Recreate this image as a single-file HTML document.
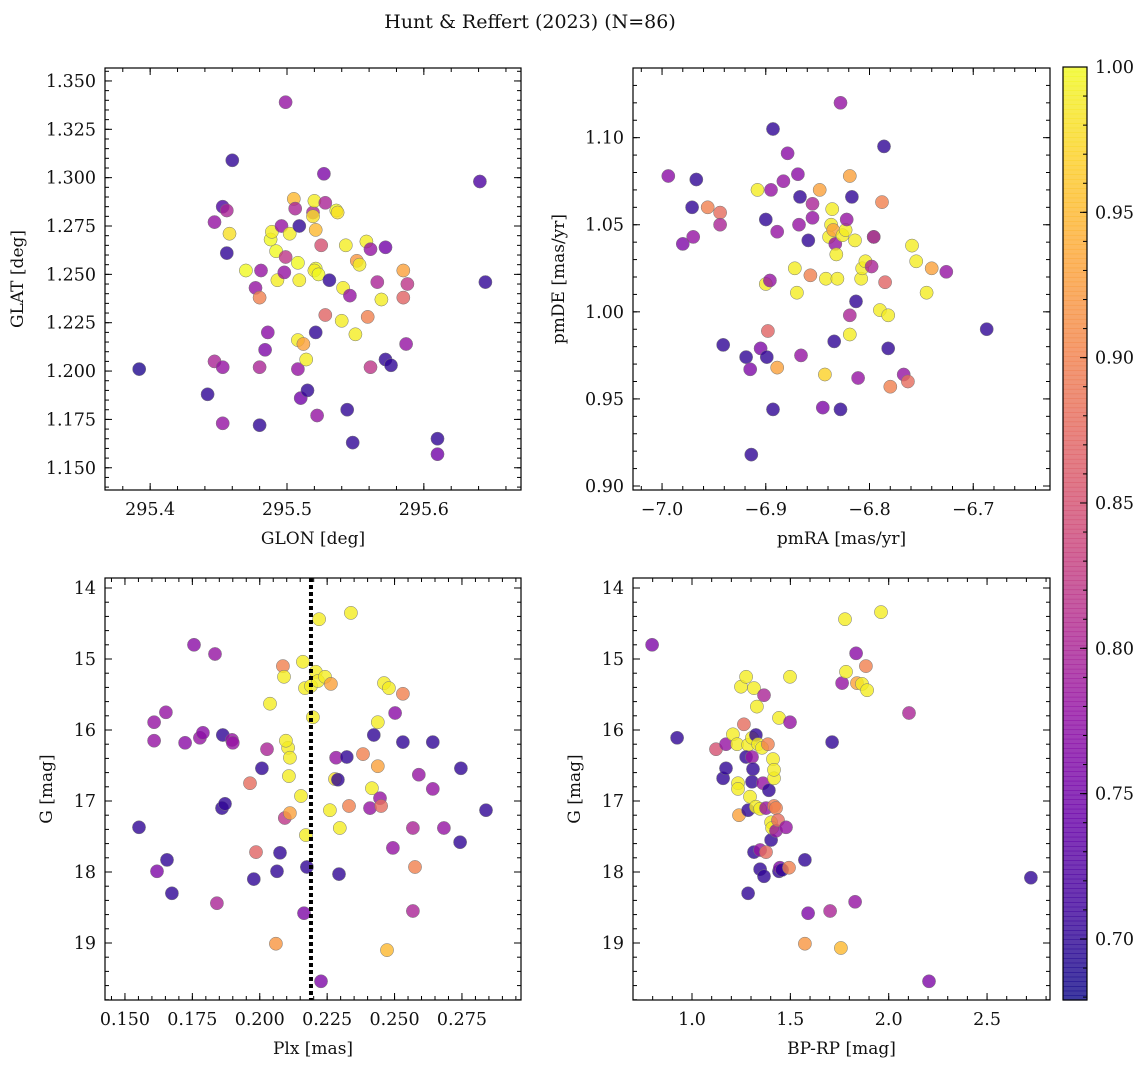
<!DOCTYPE html>
<html><head><meta charset="utf-8">
<style>
body{margin:0;background:#fff;}
svg text{font-family:"DejaVu Serif","Liberation Serif",serif;fill:#111;}
</style></head>
<body>
<svg id="fig" width="1148" height="1067" xmlns="http://www.w3.org/2000/svg">
<text x="530" y="28" font-size="19" text-anchor="middle">Hunt &amp; Reffert (2023) (N=86)</text>
</svg>
<script>
// Panel 1: GLON / GLAT
const glon=[295.392,295.442,295.460,295.447,295.453,295.456,295.456,295.458,295.470,295.447,295.453,295.453,295.477,295.480,295.480,295.481,295.484,295.486,295.480,295.488,295.489,295.492,295.493,295.496,295.498,295.499,295.499,295.502,295.505,295.506,295.509,295.508,295.509,295.508,295.510,295.508,295.512,295.514,295.515,295.519,295.519,295.520,295.521,295.521,295.520,295.523,295.521,295.522,295.525,295.527,295.528,295.531,295.528,295.536,295.537,295.540,295.543,295.541,295.544,295.546,295.550,295.548,295.551,295.553,295.558,295.559,295.561,295.561,295.566,295.569,295.572,295.572,295.576,295.585,295.585,295.587,295.588,295.610,295.610,295.641,295.645];
const glat=[1.201,1.188,1.309,1.277,1.285,1.283,1.261,1.271,1.252,1.205,1.202,1.173,1.243,1.172,1.202,1.252,1.211,1.220,1.238,1.268,1.272,1.262,1.247,1.275,1.251,1.259,1.339,1.271,1.289,1.284,1.275,1.256,1.247,1.201,1.186,1.216,1.214,1.206,1.190,1.282,1.280,1.288,1.273,1.253,1.252,1.250,1.220,1.177,1.265,1.302,1.287,1.247,1.229,1.283,1.282,1.226,1.265,1.243,1.180,1.239,1.219,1.163,1.257,1.255,1.267,1.228,1.202,1.263,1.246,1.237,1.264,1.206,1.203,1.252,1.238,1.214,1.245,1.165,1.157,1.298,1.246];
const prob1=[0.69,0.70,0.70,0.78,0.72,0.80,0.70,0.98,1.0,0.80,0.78,0.78,0.78,0.70,0.80,0.78,0.76,0.77,0.90,1.0,0.99,1.0,0.99,0.78,0.78,0.82,0.78,0.99,0.95,0.80,0.70,1.0,0.99,0.78,0.75,0.99,0.93,0.99,0.70,0.80,0.98,0.99,0.95,1.0,0.99,1.0,0.70,0.78,0.85,0.76,0.80,0.70,0.87,1.0,0.98,0.99,0.99,0.99,0.70,0.78,0.99,0.70,0.92,0.99,0.99,0.90,0.82,0.78,0.80,0.99,0.75,0.70,0.70,0.93,0.87,0.78,0.82,0.70,0.75,0.72,0.70];
// Panel 2: pmRA / pmDE
const pmra=[-6.994,-6.967,-6.971,-6.980,-6.970,-6.956,-6.944,-6.944,-6.941,-6.919,-6.915,-6.914,-6.908,-6.900,-6.905,-6.899,-6.898,-6.900,-6.896,-6.893,-6.895,-6.893,-6.889,-6.889,-6.883,-6.879,-6.872,-6.870,-6.869,-6.866,-6.867,-6.868,-6.859,-6.857,-6.855,-6.855,-6.848,-6.845,-6.843,-6.842,-6.839,-6.837,-6.836,-6.835,-6.833,-6.832,-6.834,-6.831,-6.828,-6.828,-6.826,-6.823,-6.822,-6.819,-6.819,-6.819,-6.817,-6.814,-6.813,-6.811,-6.808,-6.807,-6.804,-6.796,-6.796,-6.798,-6.790,-6.788,-6.786,-6.785,-6.782,-6.782,-6.780,-6.767,-6.763,-6.759,-6.755,-6.745,-6.740,-6.726,-6.687];
const pmde=[1.078,1.076,1.060,1.039,1.043,1.060,1.057,1.050,0.981,0.974,0.967,0.918,1.070,1.053,0.979,0.974,0.989,1.016,1.018,1.105,1.070,0.944,0.968,1.046,1.075,1.091,1.025,1.011,1.079,0.975,1.066,1.050,1.041,1.021,1.054,1.062,1.070,0.945,0.964,1.019,1.043,1.050,1.059,1.047,1.039,1.033,0.983,1.019,1.120,0.944,1.044,1.047,1.053,1.078,0.998,0.987,1.066,1.041,1.006,0.962,1.019,1.025,1.029,1.043,1.043,1.026,1.001,1.063,1.095,1.017,0.998,0.979,0.957,0.964,0.960,1.038,1.029,1.011,1.025,1.023,0.990];
const prob2=[0.77,0.70,0.70,0.76,0.78,0.90,0.88,0.80,0.70,0.70,0.76,0.70,0.99,0.70,0.76,0.70,0.87,0.99,0.78,0.70,0.78,0.70,0.93,0.78,0.78,0.77,0.99,0.99,0.77,0.78,0.70,0.78,0.70,0.90,0.78,0.80,0.93,0.76,0.97,0.99,0.99,0.99,0.99,0.93,0.78,0.99,0.70,0.99,0.78,0.70,0.99,0.99,0.78,0.93,0.80,0.99,0.70,0.99,0.70,0.78,0.99,0.99,0.99,0.99,0.78,0.80,0.99,0.90,0.70,0.87,0.99,0.70,0.90,0.78,0.88,0.99,0.99,0.99,0.93,0.78,0.70];
// Panel 3: Plx / G
const plx=[0.1552,0.1608,0.1608,0.1619,0.1652,0.1656,0.1674,0.1723,0.1756,0.1778,0.1789,0.1834,0.1841,0.1860,0.1871,0.1863,0.1897,0.1900,0.1964,0.1978,0.1986,0.2008,0.2027,0.2038,0.2060,0.2064,0.2075,0.2086,0.2090,0.2093,0.2105,0.2097,0.2112,0.2108,0.2112,0.2153,0.2160,0.2168,0.2164,0.2171,0.2175,0.2190,0.2197,0.2208,0.2216,0.2220,0.2227,0.2242,0.2264,0.2260,0.2279,0.2290,0.2283,0.2294,0.2297,0.2323,0.2331,0.2338,0.2383,0.2409,0.2416,0.2423,0.2438,0.2438,0.2446,0.2450,0.2461,0.2472,0.2479,0.2494,0.2502,0.2531,0.2531,0.2568,0.2568,0.2576,0.2590,0.2642,0.2642,0.2683,0.2743,0.2746,0.2839];
const gmag3=[17.37,15.89,16.15,17.99,15.75,17.83,18.30,16.18,14.80,16.11,16.04,14.93,18.44,17.10,17.04,16.07,16.14,16.18,16.75,18.10,17.72,16.54,16.27,15.63,19.01,17.99,17.73,15.10,15.25,17.24,16.25,16.15,16.39,16.65,17.17,16.93,15.04,15.41,18.58,17.48,17.93,15.38,15.82,15.18,15.31,14.44,19.54,15.25,15.35,17.13,16.69,16.70,16.39,18.03,17.38,16.38,17.07,14.35,16.34,17.10,16.82,16.07,15.89,16.51,16.96,17.07,15.34,19.10,15.41,17.66,15.76,15.49,16.17,17.38,18.55,17.93,16.63,16.83,16.17,17.38,17.58,16.54,17.13];
const prob3=[0.70,0.78,0.78,0.76,0.78,0.70,0.70,0.77,0.77,0.78,0.77,0.78,0.80,0.70,0.70,0.70,0.78,0.78,0.88,0.70,0.87,0.70,0.80,0.99,0.92,0.70,0.70,0.90,0.99,0.82,0.99,0.99,0.99,0.99,0.93,0.99,0.99,0.99,0.76,0.99,0.70,0.99,0.99,0.99,0.99,0.99,0.76,0.99,0.93,0.99,0.98,0.70,0.78,0.70,0.99,0.70,0.90,0.99,0.90,0.78,0.99,0.70,0.99,0.93,0.78,0.88,0.99,0.95,0.99,0.78,0.77,0.90,0.70,0.80,0.80,0.90,0.78,0.78,0.70,0.78,0.70,0.70,0.70];
// Panel 4: BP-RP / G
const bprp=[0.797,0.924,1.122,1.173,1.158,1.173,1.208,1.229,1.234,1.234,1.239,1.249,1.264,1.275,1.285,1.275,1.285,1.285,1.295,1.305,1.305,1.305,1.310,1.315,1.315,1.325,1.325,1.330,1.336,1.346,1.346,1.346,1.356,1.366,1.361,1.366,1.376,1.376,1.386,1.391,1.402,1.402,1.407,1.412,1.417,1.417,1.417,1.427,1.427,1.437,1.442,1.442,1.447,1.458,1.478,1.498,1.498,1.493,1.574,1.574,1.590,1.712,1.702,1.763,1.757,1.778,1.783,1.829,1.834,1.839,1.864,1.884,1.890,1.961,2.103,2.205,2.723];
const gmag4=[14.80,16.11,16.27,16.20,16.68,16.54,16.06,16.20,16.75,16.83,17.20,15.39,15.92,15.25,16.21,16.38,17.13,18.30,16.94,16.11,16.38,16.73,16.55,17.72,15.41,16.07,17.08,15.67,16.20,17.69,17.96,17.11,16.25,15.51,16.75,18.06,17.72,17.10,16.20,16.85,17.55,17.30,17.38,16.41,16.68,16.56,17.07,17.42,17.10,17.27,15.83,17.99,17.94,17.97,17.37,15.25,15.89,17.94,17.83,19.01,18.58,16.17,18.55,15.34,19.07,14.44,15.18,18.42,14.92,15.34,15.35,15.10,15.44,14.34,15.76,19.54,18.08];
const prob4=[0.76,0.70,0.85,0.78,0.70,0.70,0.99,0.99,0.99,0.99,0.93,0.99,0.88,0.99,0.99,0.70,0.70,0.70,0.99,0.99,0.78,0.70,0.70,0.70,0.99,0.70,0.99,0.99,0.99,0.78,0.70,0.99,0.99,0.80,0.78,0.70,0.88,0.78,0.90,0.70,0.70,0.99,0.99,0.99,0.99,0.99,0.90,0.78,0.90,0.88,0.99,0.70,0.76,0.70,0.78,0.99,0.78,0.90,0.70,0.92,0.76,0.70,0.80,0.78,0.95,0.99,0.99,0.78,0.77,0.93,0.99,0.90,0.99,0.99,0.80,0.76,0.70];
const plxRef=[0.219];
const cbTicks=[0.70,0.75,0.80,0.85,0.90,0.95,1.00];
const VMIN=0.679, VMAX=1.0;

const NS="http://www.w3.org/2000/svg";
const svg=document.getElementById('fig');
function mk(tag,attrs,parent){const e=document.createElementNS(NS,tag);for(const k in attrs)e.setAttribute(k,attrs[k]);(parent||svg).appendChild(e);return e;}
const stops=[[13,8,135],[65,4,157],[106,0,168],[143,13,164],[177,42,144],[204,71,120],[225,100,98],[242,132,75],[252,166,54],[252,206,37],[240,249,33]];
function plasma(t){t=Math.max(0,Math.min(1,t));const f=t*10,i=Math.min(9,Math.floor(f)),r=f-i;const a=stops[i],b=stops[i+1];return 'rgb('+a.map((v,k)=>Math.round(v+(b[k]-v)*r)).join(',')+')';}
function fmt(v,d){let s=v.toFixed(d);return s.replace('-','\u2212');}
const TFS=17.5, LFS=17;

function panel(cfg){
  const {L,T,R,B,x0,x1,y0,y1,inv,xs,ys,cs,xMaj,xMin,yMaj,yMin,xd,yd,xlab,ylab,name}=cfg;
  const sx=v=>L+(v-x0)/(x1-x0)*(R-L);
  const sy=inv?(v=>T+(v-y0)/(y1-y0)*(B-T)):(v=>B-(v-y0)/(y1-y0)*(B-T));
  const g=mk('g',{});
  
  
  const pts=mk('g',{},g);
  
  
  for(let i=0;i<xs.length;i++){
    const c=mk('circle',{cx:sx(xs[i]).toFixed(1),cy:sy(ys[i]).toFixed(1),r:6.6,fill:plasma((cs[i]-VMIN)/(VMAX-VMIN)),'fill-opacity':0.8,stroke:'#777','stroke-width':0.5},pts);
    
    
  }
  if(cfg.extra)cfg.extra(g,sx,sy);
  const fr=mk('rect',{x:L,y:T,width:R-L,height:B-T,fill:'none',stroke:'#000','stroke-width':1.2},g);
  
  
  function ticks(lo,hi,step,len,isX,label,dec){
    const n0=Math.ceil(lo/step-1e-6),n1=Math.floor(hi/step+1e-6);
    for(let n=n0;n<=n1;n++){const v=n*step;
      if(isX){const x=sx(v);mk('line',{x1:x,x2:x,y1:B,y2:B-len,stroke:'#000','stroke-width':1},g);mk('line',{x1:x,x2:x,y1:T,y2:T+len,stroke:'#000','stroke-width':1},g);
        if(label){const t=mk('text',{x:x,y:B+25,'font-size':TFS,'text-anchor':'middle'},g);t.textContent=fmt(v,dec);}}
      else{const y=sy(v);mk('line',{x1:L,x2:L+len,y1:y,y2:y,stroke:'#000','stroke-width':1},g);mk('line',{x1:R,x2:R-len,y1:y,y2:y,stroke:'#000','stroke-width':1},g);
        if(label){const t=mk('text',{x:L-9,y:y+6,'font-size':TFS,'text-anchor':'end'},g);t.textContent=fmt(v,dec);}}
    }}
  ticks(Math.min(x0,x1),Math.max(x0,x1),xMin,4,true,false);
  ticks(Math.min(x0,x1),Math.max(x0,x1),xMaj,7,true,true,xd);
  ticks(Math.min(y0,y1),Math.max(y0,y1),yMin,4,false,false);
  ticks(Math.min(y0,y1),Math.max(y0,y1),yMaj,7,false,true,yd);
  const xl=mk('text',{x:(L+R)/2,y:B+54,'font-size':LFS,'text-anchor':'middle'},g);xl.textContent=xlab;
  
  const yx=cfg.ylx,ycy=(T+B)/2;
  const yl=mk('text',{x:yx,y:ycy,'font-size':LFS,'text-anchor':'middle',transform:'rotate(-90 '+yx+' '+ycy+')'},g);yl.textContent=ylab;
  
}

panel({name:'panel-glon-glat',L:105,T:68,R:521,B:490,x0:295.367,x1:295.671,y0:1.1385,y1:1.3567,xs:glon,ys:glat,cs:prob1,xMaj:0.1,xMin:0.02,yMaj:0.025,yMin:0.005,xd:1,yd:3,xlab:'GLON [deg]',ylab:'GLAT [deg]',ylx:23});
panel({name:'panel-pm',L:633,T:68,R:1050,B:490,x0:-7.028,x1:-6.626,y0:0.8977,y1:1.140,xs:pmra,ys:pmde,cs:prob2,xMaj:0.1,xMin:0.02,yMaj:0.05,yMin:0.01,xd:1,yd:2,xlab:'pmRA [mas/yr]',ylab:'pmDE [mas/yr]',ylx:564});
panel({name:'panel-plx-g',L:105,T:578,R:521,B:1000,x0:0.1426,x1:0.2969,y0:13.859,y1:19.803,inv:true,xs:plx,ys:gmag3,cs:prob3,xMaj:0.025,xMin:0.005,yMaj:1,yMin:0.2,xd:3,yd:0,xlab:'Plx [mas]',ylab:'G [mag]',ylx:52,
  extra:(g,sx,sy)=>{plxRef.forEach(v=>{const l=mk('line',{x1:sx(v),x2:sx(v),y1:578,y2:1000,stroke:'#000','stroke-width':4,'stroke-dasharray':'4 3'},g);});}});
panel({name:'panel-cmd',L:633,T:578,R:1050,B:1000,x0:0.700,x1:2.820,y0:13.859,y1:19.803,inv:true,xs:bprp,ys:gmag4,cs:prob4,xMaj:0.5,xMin:0.1,yMaj:1,yMin:0.2,xd:1,yd:0,xlab:'BP-RP [mag]',ylab:'G [mag]',ylx:580});

// colorbar
(function(){
  const L=1063,R=1087,T=67,B=1000;
  const g=mk('g',{});
  
  
  const N=200;
  for(let i=0;i<N;i++){const y=B-(i+1)*(B-T)/N;mk('rect',{x:L,y:y.toFixed(2),width:R-L,height:((B-T)/N+0.6).toFixed(2),fill:plasma((i+0.5)/N),'fill-opacity':0.8},g);}
  mk('rect',{x:L,y:T,width:R-L,height:B-T,fill:'none',stroke:'#000','stroke-width':1.2},g);
  const sy=v=>B-(v-VMIN)/(VMAX-VMIN)*(B-T);
  for(let n=68;n<=100;n++){const y=sy(n/100);mk('line',{x1:R,x2:R-4,y1:y,y2:y,stroke:'#000','stroke-width':1},g);}
  cbTicks.forEach(v=>{const y=sy(v);mk('line',{x1:R,x2:R-7,y1:y,y2:y,stroke:'#000','stroke-width':1},g);
    const t=mk('text',{x:R+8,y:y+6,'font-size':TFS},g);t.textContent=v.toFixed(2);
    });
})();
</script>
</body></html>
